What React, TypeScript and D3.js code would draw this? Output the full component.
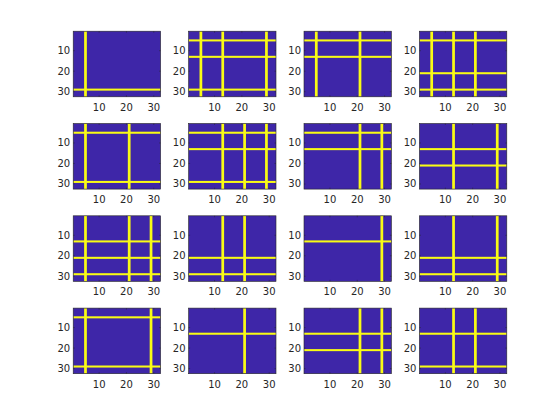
import React from 'react';
import * as d3 from 'd3';

// lit rows / columns of each 32x32 image, subplot order (row-major)
const litRows = [
  [29], [5, 13, 29], [5, 13], [5, 21, 29],
  [5, 29], [5, 13, 29], [5, 13], [13, 21],
  [13, 21, 29], [21, 29], [13], [21, 29],
  [5, 29], [13], [13, 21], [13, 29],
];
const litCols = [
  [5], [5, 13, 29], [5, 21], [5, 13, 21],
  [5, 21], [13, 21, 29], [21, 29], [13, 29],
  [5, 21, 29], [13, 21], [29], [13, 29],
  [5, 29], [21], [21, 29], [13, 21],
];
const ticks = [10, 20, 30];

const W = 560, H = 420;
const blue = '#3e26a8', yellow = '#f9fb15';
const left0 = 73.2, colStep = 115.4, axW = 87.4;
const top0 = 31.2, rowStep = 92.3, axH = 65.6;

function Panel({ idx }: { idx: number }) {
  const c = idx % 4, r = Math.floor(idx / 4);
  const x0 = left0 + c * colStep, y0 = top0 + r * rowStep;
  const x = d3.scaleLinear().domain([0.5, 32.5]).range([x0, x0 + axW]);
  const y = d3.scaleLinear().domain([0.5, 32.5]).range([y0, y0 + axH]);
  return (
    <g>
      <rect x={x0} y={y0} width={axW} height={axH} fill={blue} />
      {litRows[idx].map(v => (
        <rect key={'r' + v} x={x0} width={axW} y={y(v - 0.5)} height={y(v + 0.5) - y(v - 0.5)} fill={yellow} />
      ))}
      {litCols[idx].map(v => (
        <rect key={'c' + v} y={y0} height={axH} x={x(v - 0.5)} width={x(v + 0.5) - x(v - 0.5)} fill={yellow} />
      ))}
      <rect x={x0} y={y0} width={axW} height={axH} fill="none" stroke="#262626" strokeWidth={0.6} />
      {ticks.map(t => (
        <g key={'x' + t}>
          <line x1={x(t)} x2={x(t)} y1={y0 + axH} y2={y0 + axH - 1.5} stroke="#262626" strokeWidth={0.5} />
          <line x1={x(t)} x2={x(t)} y1={y0} y2={y0 + 1.5} stroke="#262626" strokeWidth={0.5} />
          <text x={x(t)} y={y0 + axH + 14} textAnchor="middle" fontSize={10} fill="#262626">{t}</text>
        </g>
      ))}
      {ticks.map(t => (
        <g key={'y' + t}>
          <line x1={x0} x2={x0 + 1.5} y1={y(t)} y2={y(t)} stroke="#262626" strokeWidth={0.5} />
          <line x1={x0 + axW} x2={x0 + axW - 1.5} y1={y(t)} y2={y(t)} stroke="#262626" strokeWidth={0.5} />
          <text x={x0 - 3} y={y(t)} dy="0.35em" textAnchor="end" fontSize={10} fill="#262626">{t}</text>
        </g>
      ))}
    </g>
  );
}

export default function App() {
  return (
    <svg width={W} height={H} style={{ position: 'absolute', left: 0, top: 0, background: '#fff' }}
      fontFamily="'DejaVu Sans', sans-serif">
      {litRows.map((_, i) => <Panel key={i} idx={i} />)}
    </svg>
  );
}
